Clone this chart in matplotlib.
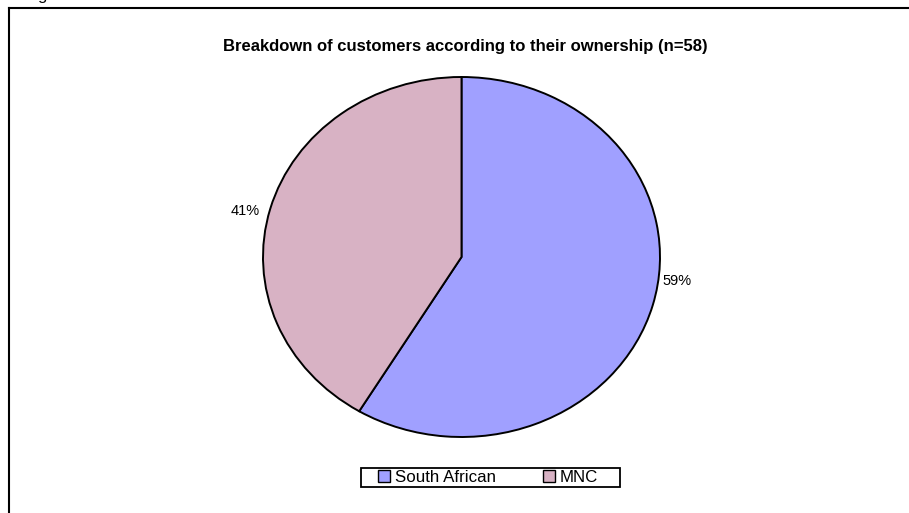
import matplotlib.pyplot as plt
from matplotlib.lines import Line2D
from matplotlib.patches import Patch, Rectangle

# customers by ownership (n=58)
labels = ['South African', 'MNC']
counts = [34, 24]
pct_labels = ['59%', '41%']
colors = ['#a0a0ff', '#d8b2c4']

plt.rcParams['font.family'] = ['Liberation Sans', 'DejaVu Sans']

W, H = 909, 513
fig = plt.figure(figsize=(W / 100, H / 100), dpi=100)

# pie area stretched a little wider than tall, as in the original
ax = fig.add_axes([263 / W, 1 - 437 / H, 397 / W, 360 / H])
wedges, texts = ax.pie(counts, colors=colors, startangle=90, counterclock=False,
                       labels=pct_labels, labeldistance=1.12,
                       wedgeprops=dict(edgecolor='black', linewidth=1.4),
                       textprops=dict(fontsize=10.5))
ax.set_aspect('auto')
ax.set_xlim(-1, 1)
ax.set_ylim(-1, 1)
ax.axis('off')

# percentage labels sit where Excel put them, not at the wedge middles
texts[0].set_position((1.086, -0.133))
texts[1].set_position((-1.091, 0.256))
for t in texts:
    t.set_ha('center')
    t.set_va('center')

fig.text(465 / W, 1 - 47 / H, 'Breakdown of customers according to their ownership (n=58)',
         ha='center', va='center', fontsize=12, fontweight='bold')

# legend entries without own frame; the wider box is drawn separately
handles = [Patch(facecolor=c, edgecolor='black', linewidth=1.0) for c in colors]
leg = fig.legend(handles, labels, loc='center', bbox_to_anchor=(488 / W, 1 - 477.5 / H),
                 ncol=2, fontsize=12.2, frameon=False, handlelength=0.72,
                 handleheight=0.72, handletextpad=0.3, columnspacing=2.75,
                 borderpad=0.15, borderaxespad=0)
fig.add_artist(Rectangle((361 / W, 1 - 487 / H), 259 / W, 19 / H, transform=fig.transFigure,
                         facecolor='none', edgecolor='black', linewidth=1.3))

# border of the surrounding frame (top and left edges only are visible)
fig.add_artist(Line2D([9 / W, 1], [1 - 8 / H, 1 - 8 / H], color='black', linewidth=1.5))
fig.add_artist(Line2D([9 / W, 9 / W], [0, 1 - 8 / H], color='black', linewidth=1.5))

# fragment of text from the page above
fig.text(37 / W, 1.0, 'g', fontsize=12, va='baseline', ha='left')

fig.savefig('out.png', dpi=100)
